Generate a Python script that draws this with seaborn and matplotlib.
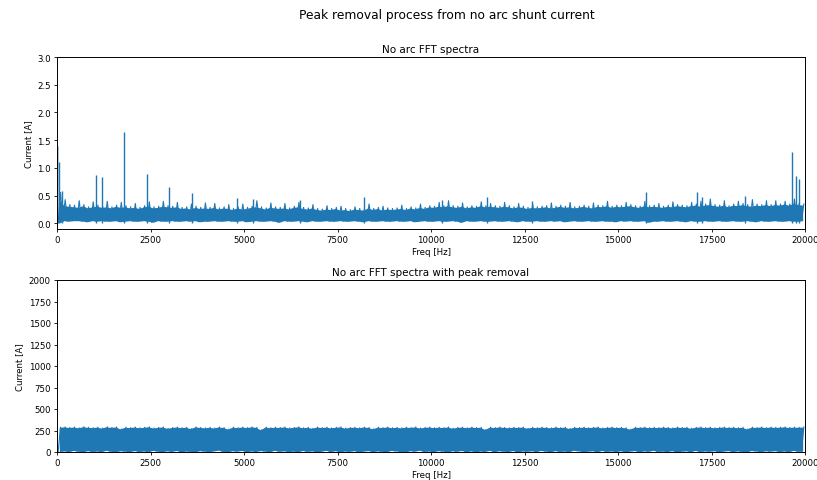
import numpy as np
import pandas as pd
import matplotlib
matplotlib.use("Agg")
import matplotlib.pyplot as plt
import seaborn as sns

# ---------------- data ----------------
freq_max = 20000
n_bins = 160  # 125 Hz bins

# top: no-arc FFT spectrum, per-bin spike tips / dense band top / band bottom
top_hi = [
    0.56, 0.43, 0.34, 0.33, 0.41, 0.34, 0.30, 0.39,
    0.33, 0.31, 0.40, 0.30, 0.33, 0.38, 0.32, 0.30,
    0.36, 0.29, 0.32, 0.39, 0.30, 0.31, 0.40, 0.32,
    0.31, 0.38, 0.29, 0.30, 0.35, 0.31, 0.29, 0.37,
    0.29, 0.36, 0.28, 0.30, 0.34, 0.27, 0.30, 0.35,
    0.29, 0.31, 0.41, 0.30, 0.28, 0.37, 0.30, 0.29,
    0.36, 0.28, 0.31, 0.38, 0.29, 0.28, 0.34, 0.27,
    0.26, 0.32, 0.27, 0.29, 0.31, 0.27, 0.25, 0.30,
    0.27, 0.26, 0.35, 0.27, 0.29, 0.31, 0.28, 0.27,
    0.28, 0.33, 0.27, 0.30, 0.28, 0.35, 0.29, 0.32,
    0.31, 0.38, 0.32, 0.41, 0.32, 0.31, 0.37, 0.30,
    0.32, 0.31, 0.39, 0.32, 0.36, 0.32, 0.31, 0.38,
    0.32, 0.30, 0.36, 0.31, 0.29, 0.35, 0.30, 0.31,
    0.32, 0.37, 0.31, 0.33, 0.31, 0.38, 0.30, 0.31,
    0.33, 0.31, 0.37, 0.33, 0.32, 0.40, 0.31, 0.33,
    0.32, 0.38, 0.34, 0.32, 0.31, 0.40, 0.32, 0.33,
    0.36, 0.31, 0.33, 0.39, 0.34, 0.33, 0.32, 0.38,
    0.35, 0.40, 0.35, 0.44, 0.34, 0.33, 0.41, 0.32,
    0.35, 0.40, 0.36, 0.34, 0.43, 0.35, 0.34, 0.41,
    0.34, 0.41, 0.35, 0.40, 0.35, 0.44, 0.36, 0.35,
]
top_mid = [
    0.42, 0.32, 0.31, 0.30, 0.29, 0.32, 0.28, 0.30,
    0.31, 0.29, 0.30, 0.28, 0.31, 0.29, 0.30, 0.28,
    0.29, 0.27, 0.30, 0.31, 0.28, 0.29, 0.31, 0.30,
    0.29, 0.30, 0.27, 0.28, 0.26, 0.29, 0.27, 0.28,
    0.27, 0.29, 0.26, 0.28, 0.27, 0.25, 0.28, 0.26,
    0.27, 0.29, 0.30, 0.28, 0.26, 0.29, 0.28, 0.27,
    0.28, 0.26, 0.29, 0.30, 0.27, 0.26, 0.28, 0.25,
    0.24, 0.26, 0.25, 0.27, 0.24, 0.25, 0.23, 0.26,
    0.25, 0.24, 0.28, 0.25, 0.27, 0.24, 0.26, 0.25,
    0.26, 0.27, 0.25, 0.28, 0.26, 0.29, 0.27, 0.30,
    0.29, 0.31, 0.30, 0.32, 0.30, 0.29, 0.31, 0.28,
    0.30, 0.29, 0.32, 0.30, 0.31, 0.30, 0.29, 0.31,
    0.30, 0.28, 0.30, 0.29, 0.27, 0.29, 0.28, 0.29,
    0.30, 0.28, 0.29, 0.31, 0.29, 0.30, 0.28, 0.29,
    0.31, 0.29, 0.28, 0.31, 0.30, 0.32, 0.29, 0.31,
    0.30, 0.31, 0.32, 0.30, 0.29, 0.32, 0.30, 0.31,
    0.30, 0.29, 0.31, 0.30, 0.32, 0.31, 0.30, 0.32,
    0.33, 0.31, 0.33, 0.34, 0.32, 0.31, 0.33, 0.30,
    0.33, 0.32, 0.34, 0.32, 0.31, 0.33, 0.32, 0.34,
    0.32, 0.34, 0.33, 0.35, 0.33, 0.36, 0.34, 0.33,
]
top_lo = [
    0.01, 0.05, 0.04, 0.05, 0.05, 0.04, 0.03, 0.05,
    0.04, 0.05, 0.04, 0.04, 0.05, 0.03, 0.04, 0.05,
    0.04, 0.04, 0.05, 0.04, 0.02, 0.05, 0.04, 0.04,
    0.05, 0.04, 0.04, 0.05, 0.04, 0.05, 0.03, 0.04,
    0.04, 0.05, 0.04, 0.04, 0.05, 0.04, 0.04, 0.05,
    0.03, 0.04, 0.05, 0.04, 0.04, 0.05, 0.04, 0.02,
    0.05, 0.04, 0.04, 0.05, 0.04, 0.03, 0.05, 0.04,
    0.04, 0.05, 0.04, 0.04, 0.05, 0.04, 0.04, 0.05,
    0.04, 0.03, 0.05, 0.04, 0.04, 0.05, 0.04, 0.04,
    0.05, 0.04, 0.04, 0.05, 0.03, 0.04, 0.05, 0.04,
    0.04, 0.05, 0.04, 0.04, 0.05, 0.04, 0.02, 0.05,
    0.04, 0.04, 0.05, 0.04, 0.04, 0.05, 0.04, 0.04,
    0.05, 0.04, 0.03, 0.05, 0.04, 0.04, 0.05, 0.04,
    0.04, 0.05, 0.04, 0.05, 0.03, 0.04, 0.05, 0.04,
    0.04, 0.05, 0.04, 0.04, 0.05, 0.04, 0.04, 0.03,
    0.05, 0.04, 0.05, 0.04, 0.04, 0.05, 0.02, 0.04,
    0.04, 0.05, 0.04, 0.04, 0.05, 0.04, 0.03, 0.05,
    0.04, 0.04, 0.05, 0.04, 0.04, 0.05, 0.04, 0.04,
    0.05, 0.04, 0.04, 0.05, 0.04, 0.03, 0.05, 0.04,
    0.04, 0.05, 0.04, 0.04, 0.05, 0.04, 0.04, 0.05,
]
# isolated harmonic peaks in the top spectrum
peak_freq = [0, 60, 130, 1050, 1200, 1800, 2400, 3000, 3600, 4800, 5250,
             6500, 8200, 10300, 11500, 12700, 15750, 17100, 17250, 18400,
             19650, 19750, 19850]
peak_amp = [1.40, 1.10, 0.58, 0.88, 0.84, 1.65, 0.90, 0.65, 0.54, 0.46, 0.44,
            0.42, 0.47, 0.43, 0.48, 0.40, 0.56, 0.57, 0.47, 0.50,
            1.28, 0.85, 0.80]

# bottom: spectrum after peak removal, per-bin band top / band bottom
bot_hi = [
    288, 292, 285, 290, 281, 294, 287, 283,
    289, 278, 293, 286, 291, 268, 288, 284,
    290, 282, 287, 293, 279, 286, 291, 275,
    285, 290, 283, 288, 272, 292, 286, 281,
    287, 279, 291, 285, 266, 289, 283, 290,
    284, 292, 287, 258, 290, 283, 288, 285,
    291, 280, 286, 293, 282, 287, 276, 290,
    284, 289, 281, 287, 292, 278, 285, 288,
    282, 290, 286, 270, 288, 284, 291, 283,
    287, 281, 289, 285, 292, 279, 286, 290,
    283, 288, 284, 291, 277, 286, 289, 282,
    290, 285, 287, 262, 289, 284, 291, 286,
    282, 288, 285, 290, 276, 287, 283, 289,
    286, 281, 290, 284, 288, 273, 287, 285,
    289, 283, 287, 291, 280, 286, 290, 284,
    287, 282, 265, 288, 285, 290, 283, 287,
    284, 289, 286, 281, 290, 285, 288, 276,
    287, 291, 284, 289, 282, 286, 290, 285,
    288, 283, 287, 268, 289, 285, 291, 284,
    290, 286, 288, 292, 285, 289, 287, 291,
]
bot_lo = [
    5, 12, 3, 18, 8, 2, 15, 6,
    10, 4, 20, 7, 1, 14, 9, 3,
    16, 5, 11, 2, 19, 8, 4, 13,
    6, 17, 3, 10, 7, 1, 15, 9,
    4, 12, 22, 6, 2, 14, 8, 18,
    3, 11, 5, 16, 9, 2, 20, 7,
    13, 4, 10, 1, 17, 6, 12, 3,
    8, 19, 5, 14, 2, 10, 6, 15,
    1, 9, 16, 4, 12, 7, 3, 18,
    11, 5, 2, 14, 8, 20, 6, 10,
    3, 15, 9, 1, 13, 7, 17, 4,
    12, 2, 10, 6, 19, 3, 14, 8,
    5, 16, 1, 11, 7, 13, 4, 18,
    9, 2, 15, 6, 10, 3, 20, 12,
    4, 8, 14, 1, 17, 6, 11, 5,
    13, 3, 9, 16, 2, 12, 7, 19,
    6, 10, 4, 15, 1, 8, 13, 3,
    18, 5, 11, 7, 14, 2, 9, 16,
    4, 12, 6, 1, 17, 10, 3, 13,
    8, 15, 5, 11, 2, 19, 7, 9,
]

# ---------------- build long tables ----------------
bin_w = freq_max / n_bins
centers = (np.arange(n_bins) + 0.5) * bin_w

def zigzag(lo, hi):
    xs, ys = [], []
    for c, a, b in zip(centers, lo, hi):
        xs += [c - bin_w / 4, c + bin_w / 4]
        ys += [a, b]
    return pd.DataFrame({"Freq [Hz]": xs, "Current [A]": ys})

top_df = zigzag(top_lo, top_hi)
bot_df = zigzag(bot_lo, bot_hi)

# ---------------- figure ----------------
color = "#1f77b4"
W, H = 817, 481
fig = plt.figure(figsize=(W / 100, H / 100), dpi=100)

tick_fs = 6.2
lab_fs = 6.2
title_fs = 7.5

ax1 = fig.add_axes([57 / W, 1 - 230 / H, 748 / W, 172 / H])
ax2 = fig.add_axes([57 / W, 1 - 453 / H, 748 / W, 172 / H])

# top
ax1.fill_between(centers, top_lo, top_mid, color=color, linewidth=0)
sns.lineplot(data=top_df, x="Freq [Hz]", y="Current [A]", ax=ax1,
             color=color, linewidth=0.8, sort=False)
ax1.vlines(peak_freq, 0, peak_amp, color=color, linewidth=1.0)
ax1.vlines([0], 0, [peak_amp[0]], color="#12436b", linewidth=1.0)
ax1.set_xlim(0, freq_max)
ax1.set_ylim(-0.1, 3.0)
ax1.set_yticks([0.0, 0.5, 1.0, 1.5, 2.0, 2.5, 3.0])
ax1.set_title("No arc FFT spectra", fontsize=title_fs, pad=3.5)

# bottom
ax2.fill_between(centers, bot_lo, bot_hi, color=color, linewidth=0)
sns.lineplot(data=bot_df, x="Freq [Hz]", y="Current [A]", ax=ax2,
             color=color, linewidth=0.8, sort=False)
ax2.set_xlim(0, freq_max)
ax2.set_ylim(0, 2000)
ax2.set_yticks([0, 250, 500, 750, 1000, 1250, 1500, 1750, 2000])
ax2.set_title("No arc FFT spectra with peak removal", fontsize=title_fs, pad=3.5)

for ax in (ax1, ax2):
    ax.set_xticks([0, 2500, 5000, 7500, 10000, 12500, 15000, 17500, 20000])
    ax.tick_params(labelsize=tick_fs, length=2.5, width=0.6, pad=2)
    ax.set_xlabel("Freq [Hz]", fontsize=lab_fs, labelpad=2)
    ax.set_ylabel("Current [A]", fontsize=lab_fs, labelpad=3)
    for s in ax.spines.values():
        s.set_linewidth(0.7)

fig.suptitle("Peak removal process from no arc shunt current",
             fontsize=8.8, x=447 / W, y=1 - 16 / H, va="center")

fig.savefig("out.png", dpi=100)
